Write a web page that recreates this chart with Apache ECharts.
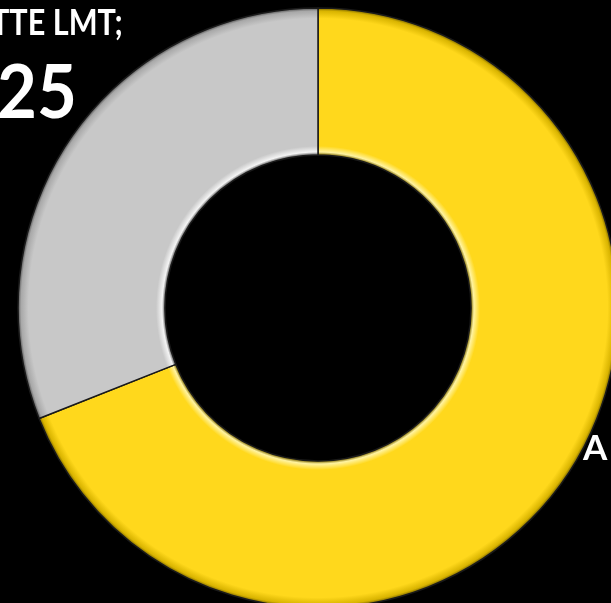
<!DOCTYPE html>
<html>
<head>
<meta charset="utf-8">
<script src="https://cdn.jsdelivr.net/npm/echarts@6/dist/echarts.min.js"></script>
<style>html,body{margin:0;padding:0;background:#000;}#c{width:611px;height:603px;}</style>
</head>
<body>
<div id="c"></div>
<script>
var categories = ['A', 'TTE LMT'];
var values = [69, 31];
var colors = ['#FFD81C', '#C8C8C8'];
var darkColors = ['#7a6600', '#555555'];
var rimColors = ['#d9b400', '#a8a8a8'];
var lightColors = ['#FFF3A0', '#F4F4F4'];
var labelLine1 = 'TTE LMT;';
var labelLine2 = '25';
var labelRight = 'A';

var CX = 318, CY = 308, R0 = 153, R1 = 300;
function grad(i) {
  var a = R0 / R1;
  return {
    type: 'radial', x: CX, y: CY, r: R1, global: true,
    colorStops: [
      { offset: 0, color: darkColors[i] },
      { offset: a, color: darkColors[i] },
      { offset: a + 0.01, color: lightColors[i] },
      { offset: a + 0.03, color: colors[i] },
      { offset: 0.965, color: colors[i] },
      { offset: 0.99, color: rimColors[i] },
      { offset: 1, color: darkColors[i] }
    ]
  };
}

var chart = echarts.init(document.getElementById('c'));
var data = categories.map(function (c, i) {
  return { name: c, value: values[i], itemStyle: { color: grad(i) } };
});
chart.setOption({
  backgroundColor: '#000',
  animation: false,
  series: [{
    type: 'pie',
    center: [CX, CY],
    radius: [R0, R1],
    startAngle: 90,
    clockwise: true,
    label: { show: false },
    labelLine: { show: false },
    itemStyle: {
      borderColor: '#1a1a1a',
      borderWidth: 1.5
    },
    data: data
  }],
  graphic: [
    { type: 'text', left: -9, top: 5, scaleX: 0.85, style: { text: labelLine1, fill: '#fff', font: 'bold 36px Lato, sans-serif' } },
    { type: 'text', left: -3, top: 57, scaleX: 0.93, style: { text: labelLine2, fill: '#fff', font: 'bold 74px Lato, sans-serif' } },
    { type: 'text', left: 583, top: 431, style: { text: labelRight, fill: '#fff', font: 'bold 35px Lato, sans-serif' } }
  ]
});
</script>
</body>
</html>
